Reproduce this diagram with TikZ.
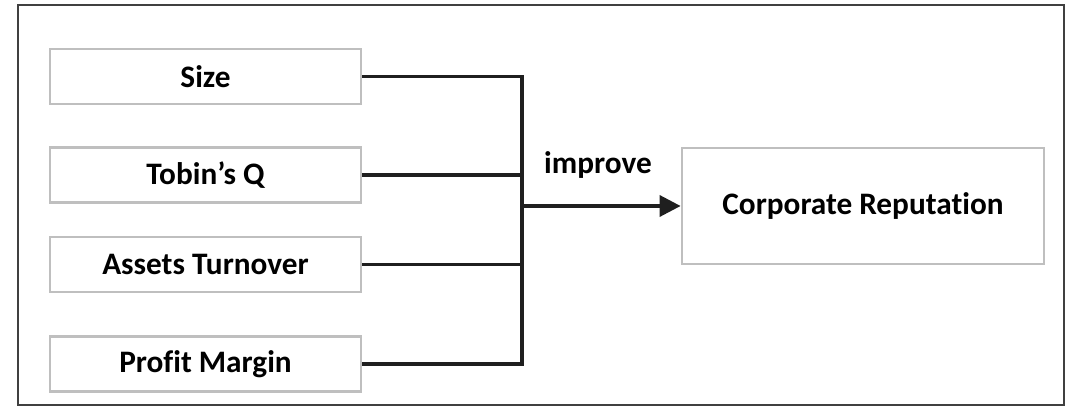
\documentclass[tikz,border=0pt]{standalone}
\usepackage{fontspec}
\setmainfont{Carlito}[Ligatures=NoCommon]
\usetikzlibrary{calc, positioning, arrows.meta}

\begin{document}
\begin{tikzpicture}[x=0.02cm,y=-0.02cm]
  \tikzset{factor/.style={draw=black!25,line width=1.6pt,inner sep=0,
      minimum width=6.22cm,minimum height=1.1cm,
      font=\fontsize{17.8}{20}\selectfont\bfseries},
    outcome/.style={factor,minimum width=7.24cm,minimum height=2.32cm},
    link/.style={draw=black!88,line width=2pt}}
  \useasboundingbox (0,0) rectangle (1066,408);
  \draw [draw=black!75,line width=1.2pt] (18,5) rectangle (1064,405);
  \node[factor](size) at (205.5,76.5) {Size};
  \node[factor](tobin) at (205.5,175) {Tobin’s Q};
  \node[factor](turn) at (205.5,264.5) {Assets Turnover};
  \node[factor](margin) at (205.5,364) {Profit Margin};
  \node[outcome](rep) at (863,206) {Corporate Reputation};
  \coordinate(hub) at (522,206);
  \draw [link] (size.east) -| (hub);
  \draw [link] (tobin.east) -| (hub);
  \draw [link] (turn.east) -| (hub);
  \draw [link] (margin.east) -| (hub);
  \draw [link,-{Triangle[length=12pt,width=12pt]}] (hub) -- (rep.west);
  \node[font=\fontsize{17.8}{20}\selectfont\bfseries](impr) at (598,165) {improve};
\end{tikzpicture}
\end{document}
